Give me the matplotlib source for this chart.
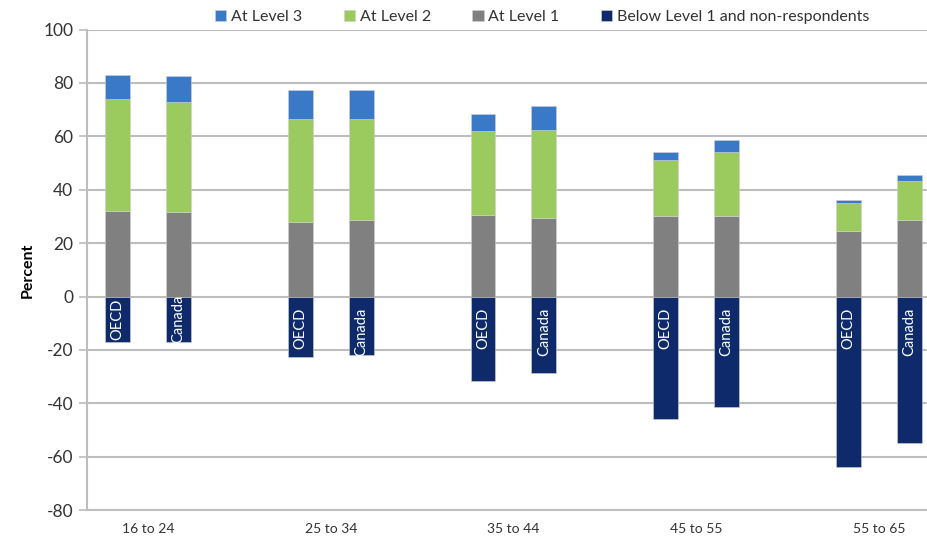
import numpy as np
import matplotlib
matplotlib.use("Agg")
import matplotlib.pyplot as plt

# Dados (percentagens)
age_groups = ["16 to 24", "25 to 34", "35 to 44", "45 to 55", "55 to 65"]
bar_names = ["OECD", "Canada"]

level1_oecd = [32, 28, 30.5, 30, 24.5]
level1_canada = [31.5, 28.5, 29.5, 30, 28.7]
level2_oecd = [42, 38.5, 31.5, 21, 10.5]
level2_canada = [41.5, 38, 33, 24, 14.7]
level3_oecd = [9, 11, 6.5, 3, 1]
level3_canada = [9.7, 11, 9, 4.5, 2]
below_oecd = [-17, -22.5, -31.5, -46, -64]
below_canada = [-17, -22, -28.5, -41.5, -55]

C_L3 = '#3A78C8'
C_L2 = '#9BCB5F'
C_L1 = '#808080'
C_BELOW = '#0E2A6A'
GRID = '#BDBDBD'

plt.rcParams['font.family'] = ['Lato', 'DejaVu Sans']
plt.rcParams['axes.unicode_minus'] = False

fig = plt.figure(figsize=(9.27, 5.37), dpi=100)
ax = fig.add_axes([0.094, 0.050, 0.906, 0.895])

width = 0.41
data = {
    'OECD': (level1_oecd, level2_oecd, level3_oecd, below_oecd),
    'Canada': (level1_canada, level2_canada, level3_canada, below_canada),
}

for j, name in enumerate(bar_names):
    x = np.arange(len(age_groups)) * 3 + j
    l1, l2, l3, bl = [np.array(v) for v in data[name]]
    kw = dict(width=width, edgecolor='#D0D0D0', linewidth=0.4, zorder=3)
    ax.bar(x, l1, color=C_L1, label='At Level 1' if j == 0 else None, **kw)
    ax.bar(x, l2, bottom=l1, color=C_L2, label='At Level 2' if j == 0 else None, **kw)
    ax.bar(x, l3, bottom=l1 + l2, color=C_L3, label='At Level 3' if j == 0 else None, **kw)
    ax.bar(x, bl, color=C_BELOW,
           label='Below Level 1 and non-respondents' if j == 0 else None, **kw)

    # rótulos brancos dentro das barras negativas
    for xi, b in zip(x, bl):
        if b > -20:
            ax.text(xi, b / 2, name, rotation=90, color='white', fontsize=10.5,
                    ha='center', va='center', zorder=4)
        else:
            ax.text(xi, -4, name, rotation=90, color='white', fontsize=10.5,
                    ha='center', va='top', zorder=4)

ax.set_xlim(-0.5, 13.29)
ax.set_ylim(-80, 100)
ax.set_yticks(np.arange(-80, 101, 20))
ax.set_xticks(np.arange(len(age_groups)) * 3 + 0.5)
ax.set_xticklabels(age_groups, fontsize=10, color='#333333')
ax.tick_params(axis='x', length=0, pad=9)
ax.tick_params(axis='y', labelsize=12.5, colors='#333333', length=6,
               width=1.2, direction='out', pad=4)
ax.tick_params(axis='y', color=GRID)
ax.yaxis.grid(True, color=GRID, linewidth=1.5, zorder=0)
ax.set_axisbelow(True)

for side in ['top', 'right']:
    ax.spines[side].set_visible(False)
ax.spines['left'].set_color(GRID)
ax.spines['left'].set_linewidth(1.5)
ax.spines['bottom'].set_color(GRID)
ax.spines['bottom'].set_linewidth(1.5)

ax.set_ylabel('Percent', fontsize=11.5, fontweight='bold', labelpad=6)

handles, labels = ax.get_legend_handles_labels()
order = ['At Level 3', 'At Level 2', 'At Level 1', 'Below Level 1 and non-respondents']
hmap = dict(zip(labels, handles))
fig.legend([hmap[k] for k in order], order, loc='center', ncol=4,
           bbox_to_anchor=(0.585, 0.968), frameon=False, fontsize=11.5,
           handlelength=0.7, handleheight=0.7, handletextpad=0.3,
           columnspacing=2.6, labelcolor='#333333')

plt.savefig('out.png', dpi=100)
plt.close()
